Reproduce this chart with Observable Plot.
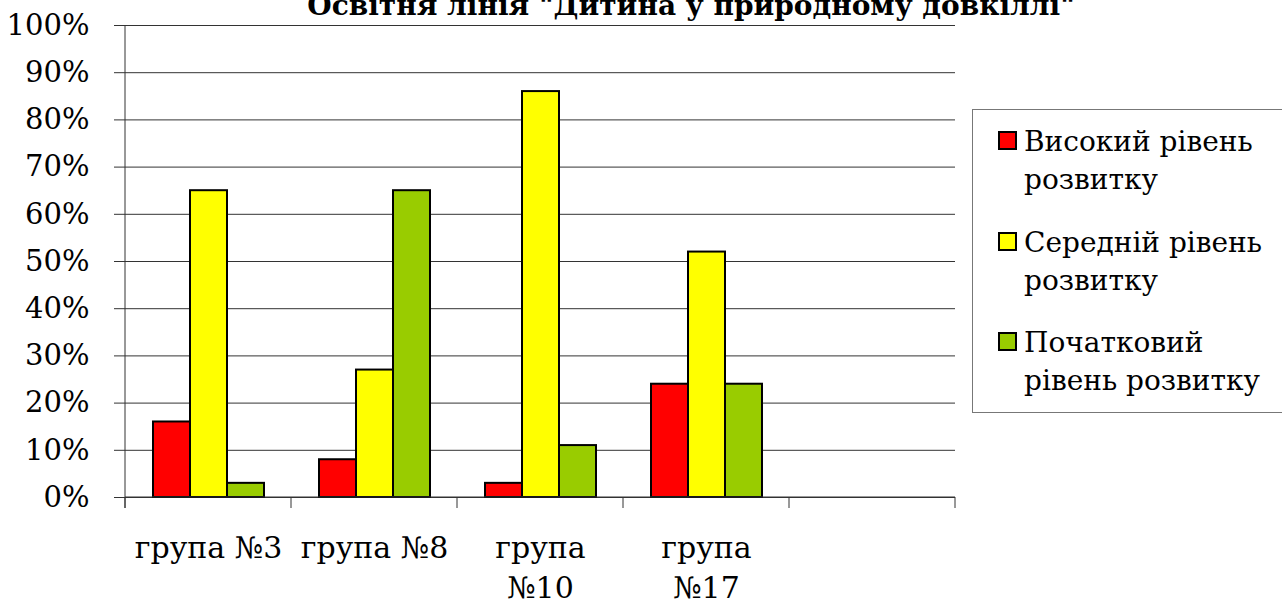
<!DOCTYPE html>
<html>
<head>
<meta charset="utf-8">
<script src="https://cdn.jsdelivr.net/npm/d3@7"></script>
<script src="https://cdn.jsdelivr.net/npm/@observablehq/plot@0.6"></script>
</head>
<body style="margin:0;background:#fff;color:#000">
<div id="wrap" style="position:relative;width:1282px;height:602px;overflow:hidden;background:#fff;font-family:'DejaVu Serif'">
  <div id="chart" style="position:absolute;left:0;top:0"></div>
  <div id="title" style="position:absolute;left:691px;top:-11px;transform:translateX(-50%);white-space:nowrap;font-weight:bold;font-size:28px;line-height:34px;font-family:'DejaVu Serif'"></div>
  <div id="legend" style="position:absolute;left:972px;top:109px;width:312px;height:304px;box-sizing:border-box;border:1px solid #777;background:#fff;font-family:'DejaVu Serif'"></div>
</div>
<script>
// ---- data ----
const chartTitle = "Освітня лінія \"Дитина у природному довкіллі\"";
const categories = ["група №3", "група №8", "група №10", "група №17", ""];
const categoryLabels = ["група №3", "група №8", "група\n№10", "група\n№17", ""];
const series = ["Високий рівень розвитку", "Середній рівень розвитку", "Початковий рівень розвитку"];
const seriesColors = ["#FF0000", "#FFFF00", "#99CC00"];
const highValues = [16, 8, 3, 24, null];
const mediumValues = [65, 27, 86, 52, null];
const initialValues = [3, 65, 11, 24, null];
const yTicks = [0, 10, 20, 30, 40, 50, 60, 70, 80, 90, 100];

const FONT = "DejaVu Serif";
const valuesBySeries = [highValues, mediumValues, initialValues];
const rows = [];
categories.forEach((c, i) => {
  series.forEach((s, k) => rows.push({category: c, series: s, value: valuesBySeries[k][i]}));
});

const gridColor = "#333";

const chart = Plot.plot({
  width: 1282,
  height: 602,
  marginLeft: 125,
  marginRight: 327,
  marginTop: 25,
  marginBottom: 105,
  style: {fontSize: "30px", color: "#000", background: "transparent"},
  fx: {domain: categories, padding: 0, label: null},
  x: {domain: series, paddingInner: 0, paddingOuter: 0.74, axis: null},
  y: {domain: [0, 100], label: null},
  color: {domain: series, range: seriesColors},
  marks: [
    Plot.gridY(yTicks, {stroke: gridColor, strokeOpacity: 1, strokeWidth: 1}),
    Plot.barY(rows, {fx: "category", x: "series", y: "value", fill: "series", stroke: "#000", strokeWidth: 2}),
    Plot.axisY(yTicks, {anchor: "left", tickSize: 11, tickPadding: 25, tickFormat: d => d + "%", label: null,
                        stroke: gridColor, fontSize: 29, fill: "#000", fontFamily: FONT}),
    Plot.axisFx({anchor: "bottom", tickSize: 0, tickPadding: 32, label: null, lineHeight: 1.33, fontSize: 30, fill: "#000",
                 fontFamily: FONT,
                 tickFormat: d => categoryLabels[categories.indexOf(d)]})
  ]
});
document.getElementById("chart").appendChild(chart);

// axis line and category separator ticks, from the plot's own scales
const fx = chart.scale("fx");
const y = chart.scale("y");
const y0 = y.apply(0), yTop = y.apply(100);
const g = d3.select(chart).append("g").attr("stroke", gridColor).attr("stroke-width", 1);
const bounds = categories.map(c => fx.apply(c));
bounds.push(fx.apply(categories[categories.length - 1]) + fx.bandwidth);
g.append("line").attr("x1", bounds[0]).attr("x2", bounds[0]).attr("y1", yTop).attr("y2", y0 + 11);
g.append("line").attr("x1", bounds[0]).attr("x2", bounds[bounds.length - 1]).attr("y1", y0).attr("y2", y0);
bounds.forEach(b => g.append("line").attr("x1", b).attr("x2", b).attr("y1", y0).attr("y2", y0 + 11));

// title
document.getElementById("title").textContent = chartTitle;

// legend
const legend = document.getElementById("legend");
const itemTops = [13, 114, 214];
series.forEach((s, k) => {
  const item = document.createElement("div");
  item.style.cssText = "position:absolute;left:0;width:300px;top:" + itemTops[k] + "px";
  const sw = document.createElement("div");
  sw.style.cssText = "position:absolute;left:25px;top:8px;width:19px;height:19px;box-sizing:border-box;border:2px solid #000;background:" + seriesColors[k];
  const lb = document.createElement("div");
  lb.style.cssText = "position:absolute;left:51px;top:0;width:255px;font-size:28px;line-height:38px;font-family:'DejaVu Serif'";
  lb.textContent = s;
  item.appendChild(sw);
  item.appendChild(lb);
  legend.appendChild(item);
});
</script>
</body>
</html>
